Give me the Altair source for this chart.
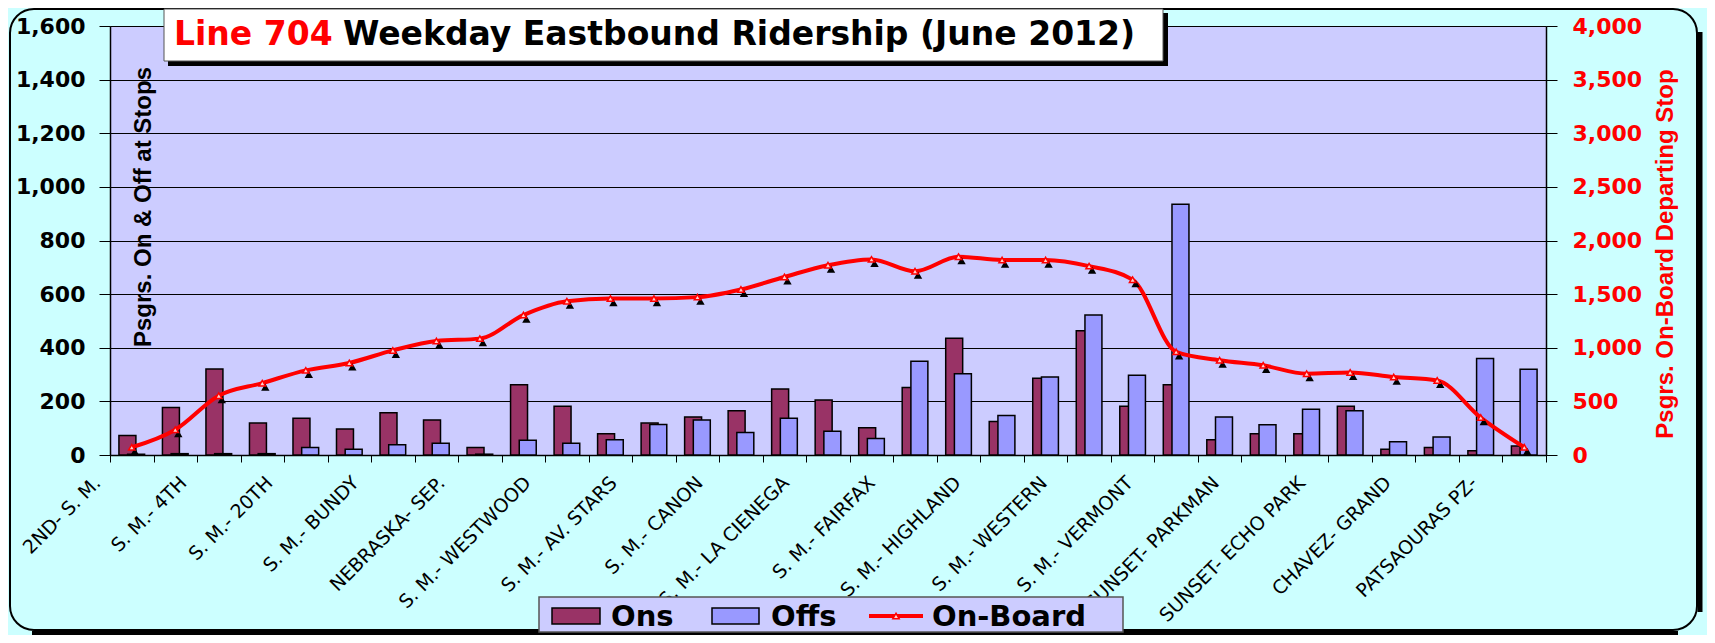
import json
import altair as alt
import pandas as pd

# ---------------- data ----------------
stop_index = list(range(33))
label_names = [
    "2ND- S. M.", "S. M.- 4TH", "S. M.- 20TH", "S. M.- BUNDY", "NEBRASKA- SEP.",
    "S. M.- WESTWOOD", "S. M.- AV. STARS", "S. M.- CANON", "S. M.- LA CIENEGA",
    "S. M.- FAIRFAX", "S. M.- HIGHLAND", "S. M.- WESTERN", "S. M.- VERMONT",
    "SUNSET- PARKMAN", "SUNSET- ECHO PARK", "CHAVEZ- GRAND", "PATSAOURAS PZ-",
]
ons = [73, 177, 321, 119, 137, 97, 158, 131, 28, 262, 182, 79, 119, 142, 165, 246, 205,
       102, 252, 435, 125, 286, 463, 182, 262, 57, 79, 79, 182, 21, 28, 16, 34]
offs = [3, 5, 5, 5, 28, 21, 38, 44, 3, 55, 44, 57, 114, 131, 84, 137, 89,
        62, 350, 303, 147, 291, 522, 297, 935, 142, 113, 171, 165, 49, 67, 360, 320]
on_board = [72, 236, 553, 670, 789, 858, 975, 1063, 1085, 1305, 1434, 1459, 1459, 1472, 1544,
            1660, 1770, 1824, 1714, 1849, 1818, 1818, 1761, 1635, 962, 884, 836, 758, 770,
            727, 695, 349, 72]
left_ticks = list(range(0, 1601, 200))
right_ticks = list(range(0, 4001, 500))

df = pd.DataFrame({"idx": stop_index, "ons": ons, "offs": offs, "on_board": on_board})
one = pd.DataFrame({"a": [0]})

# ---------------- layout ----------------
W, H = 1436, 429
BAND = W / len(stop_index)
ONS_C, OFFS_C, PLOT_BG, PANEL_BG = "#993366", "#9999FF", "#CCCCFF", "#CCFFFF"
WIDE = "DejaVu Sans"

label_expr = ("datum.value % 2 == 0 ? " + json.dumps(label_names)
              + "[floor(datum.value / 2)] : ''")
xs = alt.Scale(paddingInner=0, paddingOuter=0)

x_axis = alt.Axis(
    labelExpr=label_expr, labelAngle=-45, labelAlign="right", labelBaseline="top",
    labelFont=WIDE, labelFontSize=19, labelColor="black", labelOverlap=False,
    labelPadding=11, labelOffset=alt.ExprRef("-41 - 0.5 * datum.value"),
    labelBound=False, labelFlush=False, labelLimit=0,
    tickBand="extent", tickSize=7, tickColor="black", tickWidth=1,
    domainColor="black", domainWidth=1.5, grid=False, title=None,
)
left_axis = alt.Axis(
    values=left_ticks, format=",.0f", labelFont=WIDE, labelFontWeight="bold",
    labelFontSize=22, labelColor="black", labelPadding=14, tickSize=11, tickColor="black",
    domainColor="black", domainWidth=1.5, grid=True, gridColor="black", gridWidth=1, title=None,
)
right_axis = alt.Axis(
    orient="right", values=right_ticks, format=",.0f", labelFont=WIDE,
    labelFontWeight="bold", labelFontSize=22, labelColor="#FF0000", labelPadding=15,
    tickSize=11, tickColor="black", domainColor="black", domainWidth=1.5, grid=False,
    title=None,
)

X = alt.X("idx:O", scale=xs, axis=x_axis)
base = alt.Chart(df)

ons_bar = base.mark_bar(
    width=alt.RelativeBandSize(0.39), xOffset=-0.1 * BAND, color=ONS_C,
    stroke="black", strokeWidth=1.5,
).encode(
    x=X,
    y=alt.Y("ons:Q", scale=alt.Scale(domain=[0, 1600]), axis=left_axis),
)
offs_bar = base.mark_bar(
    width=alt.RelativeBandSize(0.39), xOffset=0.1 * BAND, color=OFFS_C,
    stroke="black", strokeWidth=1.5,
).encode(
    x=X,
    y=alt.Y("offs:Q", scale=alt.Scale(domain=[0, 1600]), axis=None),
)
line = base.mark_line(color="#FF0000", strokeWidth=4, interpolate="monotone").encode(
    x=X,
    y=alt.Y("on_board:Q", scale=alt.Scale(domain=[0, 4000]), axis=right_axis),
)
shadow = base.mark_point(
    shape="triangle-up", filled=True, color="black", opacity=1, size=70, xOffset=3, yOffset=4
).encode(
    x=X,
    y=alt.Y("on_board:Q", scale=alt.Scale(domain=[0, 4000]), axis=None),
)
marker = base.mark_point(
    shape="triangle-up", filled=True, fill="#FFD0D0", stroke="#FF0000", strokeWidth=1.5,
    opacity=1, size=40,
).encode(
    x=X,
    y=alt.Y("on_board:Q", scale=alt.Scale(domain=[0, 4000]), axis=None),
)


def box(x1, x2, y1, y2, **kw):
    return alt.Chart(one).mark_rect(**kw).encode(
        x=alt.value(x1), x2=alt.value(x2), y=alt.value(y1), y2=alt.value(y2)
    )


def label(text, x, y, **kw):
    return alt.Chart(one).mark_text(text=text, **kw).encode(x=alt.value(x), y=alt.value(y))


def rule(x1, x2, y1, y2, **kw):
    return alt.Chart(one).mark_rule(**kw).encode(
        x=alt.value(x1), x2=alt.value(x2), y=alt.value(y1), y2=alt.value(y2)
    )


# panel border with right/bottom shadow
panel = box(-100, 1587, -17, 604, fill=None, fillOpacity=0, stroke="black", strokeWidth=2,
            cornerRadius=24)
shadow_r = rule(1590, 1590, 6, 586, color="black", strokeWidth=5)
shadow_b = rule(-78, 1568, 607, 607, color="black", strokeWidth=4)

# chart title box
TFONT = dict(font=WIDE, fontWeight="bold", fontSize=33, align="left", baseline="alphabetic")
title_shadow = box(58, 1058, -13, 40, color="black")
title_box = box(54, 1053, -17, 35, fill="white", stroke="#555555", strokeWidth=1)
title_red = label("Line 704", 64, 19, color="#FF0000", **TFONT)
title_black = label("Weekday Eastbound Ridership (June 2012)", 233, 19, color="black",
                    **TFONT)

# axis titles
AFONT = dict(font="Liberation Sans", fontWeight="bold", fontSize=24, angle=270,
             align="center", baseline="middle")
left_title = label("Psgrs. On & Off at Stops", 34, 181, color="black", **AFONT)
right_title = label("Psgrs. On-Board Departing Stop", 1556, 228, color="#FF0000", **AFONT)

# legend
LFONT = dict(font=WIDE, fontWeight="bold", fontSize=29, align="left",
             baseline="alphabetic", color="black")
LY = 590
TY = 600
leg_box = box(429, 1013, 571, 606, fill=PLOT_BG, stroke="#555555", strokeWidth=1.5)
leg_ons = box(442, 490, LY - 8, LY + 8, fill=ONS_C, stroke="black", strokeWidth=1.5)
leg_ons_t = label("Ons", 501, TY, **LFONT)
leg_offs = box(602, 649, LY - 8, LY + 8, fill=OFFS_C, stroke="black", strokeWidth=1.5)
leg_offs_t = label("Offs", 661, TY, **LFONT)
leg_line = alt.Chart(one).mark_rule(color="#FF0000", strokeWidth=4).encode(
    x=alt.value(759), x2=alt.value(813), y=alt.value(LY)
)
leg_mark = alt.Chart(one).mark_point(
    shape="triangle-up", filled=True, fill="#FFD0D0", stroke="#FF0000", strokeWidth=1.5,
    opacity=1, size=40,
).encode(x=alt.value(786), y=alt.value(LY))
leg_line_t = label("On-Board", 822, TY, **LFONT)

chart = alt.layer(
    ons_bar, offs_bar, line, shadow, marker,
    panel, shadow_r, shadow_b, title_shadow, title_box, title_red, title_black,
    left_title, right_title,
    leg_box, leg_ons, leg_ons_t, leg_offs, leg_offs_t, leg_line, leg_mark, leg_line_t,
).resolve_scale(y="independent").properties(
    width=W, height=H,
    autosize=alt.AutoSizeParams(type="none"),
    padding={"left": 102, "top": 18, "right": 161, "bottom": 180},
    background=PANEL_BG,
).configure_view(fill=PLOT_BG, stroke="#808080", strokeWidth=1)

chart.save("out.html", embed_options={"renderer": "svg", "actions": False})
